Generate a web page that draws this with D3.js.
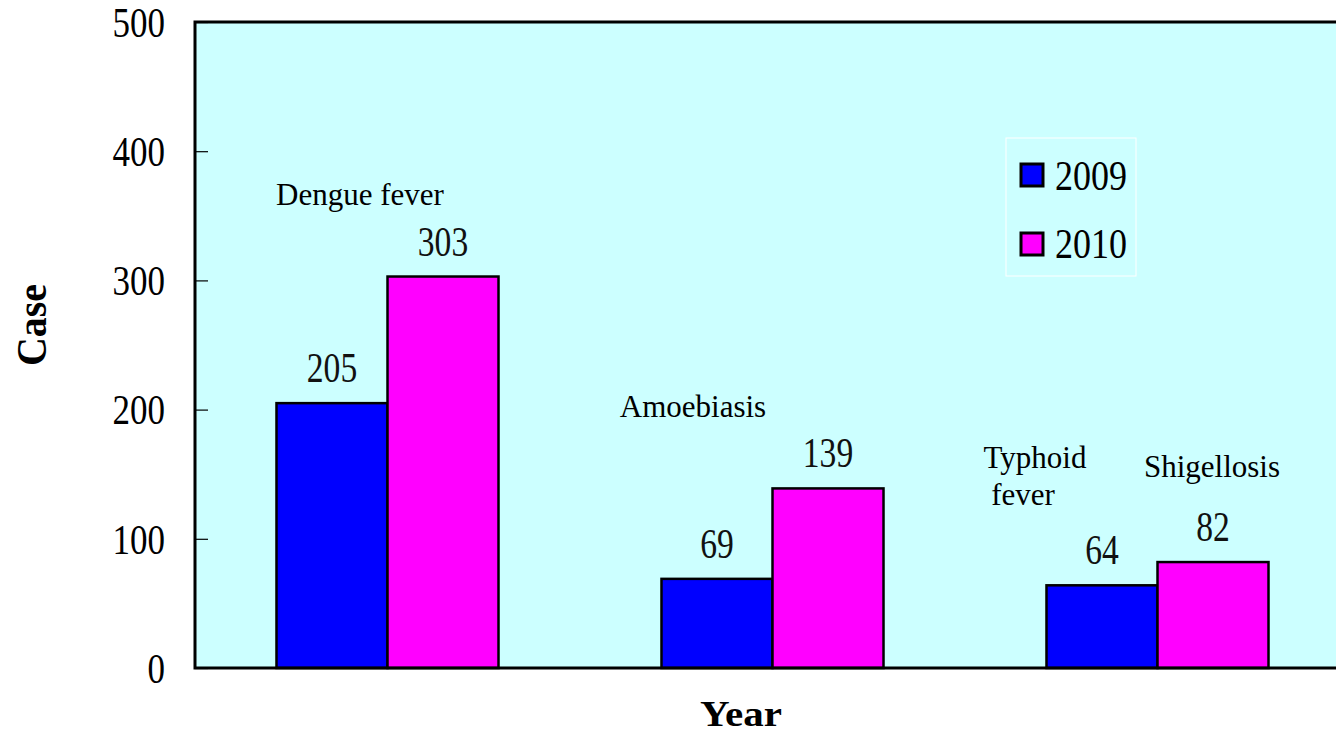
<!DOCTYPE html>
<html><head><meta charset="utf-8">
<script src="https://cdn.jsdelivr.net/npm/d3@7"></script>
<style>body{margin:0;background:#fff;} svg{display:block;}</style>
</head><body>
<svg id="c" width="1336" height="733"></svg>
<script>
const categories = ["Dengue fever", "Amoebiasis", "Typhoid fever / Shigellosis"];
const years = ["2009", "2010"];
const values2009 = [205, 69, 64];
const values2010 = [303, 139, 82];
const yTicks = [0, 100, 200, 300, 400, 500];
const diseaseLabels = [["Dengue fever"], ["Amoebiasis"], ["Typhoid", "fever"], ["Shigellosis"]];
const colors = {"2009": "#0000ff", "2010": "#ff00ff"};

const svg = d3.select("#c");
const L = 195, T = 22, B = 668, R = 1350;
const serif = "'Liberation Serif','Times New Roman',serif";

const x0 = d3.scaleBand().domain(categories).range([L, R]).padding(0);
const x1 = d3.scaleBand().domain(years).range([0, x0.bandwidth()]).paddingInner(0).paddingOuter(0.734);
const y = d3.scaleLinear().domain([0, 500]).range([B, T]);

// plot background
svg.append("rect").attr("x", L).attr("y", T).attr("width", R - L).attr("height", B - T)
  .attr("fill", "#ccffff");

// y axis ticks (inside) and labels
const yAxis = d3.axisLeft(y).tickValues(yTicks).tickSize(-13).tickPadding(30).tickFormat(d3.format("d"));
const ga = svg.append("g").attr("transform", `translate(${L},0)`).call(yAxis);
ga.select(".domain").remove();
ga.selectAll(".tick line").attr("stroke", "#000").attr("stroke-width", 1.2);
ga.selectAll(".tick text").attr("font-family", serif).attr("font-size", 42).attr("fill", "#000")
  .attr("dy", "0.34em")
  .attr("textLength", d => String(d).length * 17.5).attr("lengthAdjust", "spacingAndGlyphs");

// bars
const rows = categories.map((c, i) => ({c, vals: [
  {year: "2009", v: values2009[i]}, {year: "2010", v: values2010[i]}]}));
const g = svg.append("g").selectAll("g").data(rows).join("g")
  .attr("transform", d => `translate(${x0(d.c)},0)`);
g.selectAll("rect").data(d => d.vals).join("rect")
  .attr("x", d => x1(d.year)).attr("width", x1.bandwidth())
  .attr("y", d => y(d.v)).attr("height", d => y(0) - y(d.v))
  .attr("fill", d => colors[d.year]).attr("stroke", "#000").attr("stroke-width", 2.5);
g.selectAll("text.val").data(d => d.vals).join("text").attr("class", "val")
  .attr("x", d => x1(d.year) + x1.bandwidth() / 2)
  .attr("y", d => y(d.v) - 21)
  .attr("text-anchor", "middle")
  .attr("font-family", serif).attr("font-size", 42).attr("fill", "#111")
  .attr("textLength", d => String(d.v).length * 16.8).attr("lengthAdjust", "spacingAndGlyphs")
  .text(d => d.v);

// plot frame (left, top, bottom thick)
svg.append("path").attr("d", `M${R},${T}H${L}V${B}H${R}`)
  .attr("fill", "none").attr("stroke", "#000").attr("stroke-width", 3);

// disease labels
const cx = i => x0(categories[i]);
const lab = [
  {lines: diseaseLabels[0], x: cx(0) + 165, y: 205, dx2: 0},
  {lines: diseaseLabels[1], x: cx(1) + 113, y: 417, dx2: 0},
  {lines: diseaseLabels[2], x: cx(2) + 70, y: 468, dx2: -12},
  {lines: diseaseLabels[3], x: cx(2) + 247, y: 477, dx2: 0}
];
lab.forEach(l => {
  const t = svg.append("text").attr("y", l.y).attr("text-anchor", "middle")
    .attr("font-family", serif).attr("font-size", 31).attr("fill", "#000");
  l.lines.forEach((s, k) => t.append("tspan").attr("x", k === 0 ? l.x : l.x + l.dx2)
    .attr("dy", k === 0 ? 0 : 37).text(s));
});

// legend
const lg = svg.append("g").attr("transform", "translate(1006,138)");
lg.append("rect").attr("width", 130).attr("height", 138).attr("fill", "none")
  .attr("stroke", "#fff").attr("stroke-width", 1);
years.forEach((yr, i) => {
  lg.append("rect").attr("x", 15).attr("y", 26 + i * 69).attr("width", 22).attr("height", 22)
    .attr("fill", colors[yr]).attr("stroke", "#000").attr("stroke-width", 3);
  lg.append("text").attr("x", 49).attr("y", 52 + i * 68)
    .attr("font-family", serif).attr("font-size", 42).attr("fill", "#000")
    .attr("textLength", 72).attr("lengthAdjust", "spacingAndGlyphs").text(yr);
});

// axis titles
svg.append("text").attr("transform", "translate(46,325) rotate(-90)").attr("text-anchor", "middle")
  .attr("font-family", serif).attr("font-size", 42).attr("font-weight", "bold")
  .attr("textLength", 82).attr("lengthAdjust", "spacingAndGlyphs").text("Case");
svg.append("text").attr("x", 741).attr("y", 726).attr("text-anchor", "middle")
  .attr("font-family", serif).attr("font-size", 36).attr("font-weight", "bold")
  .attr("textLength", 82).attr("lengthAdjust", "spacingAndGlyphs").text("Year");
</script>
</body></html>
